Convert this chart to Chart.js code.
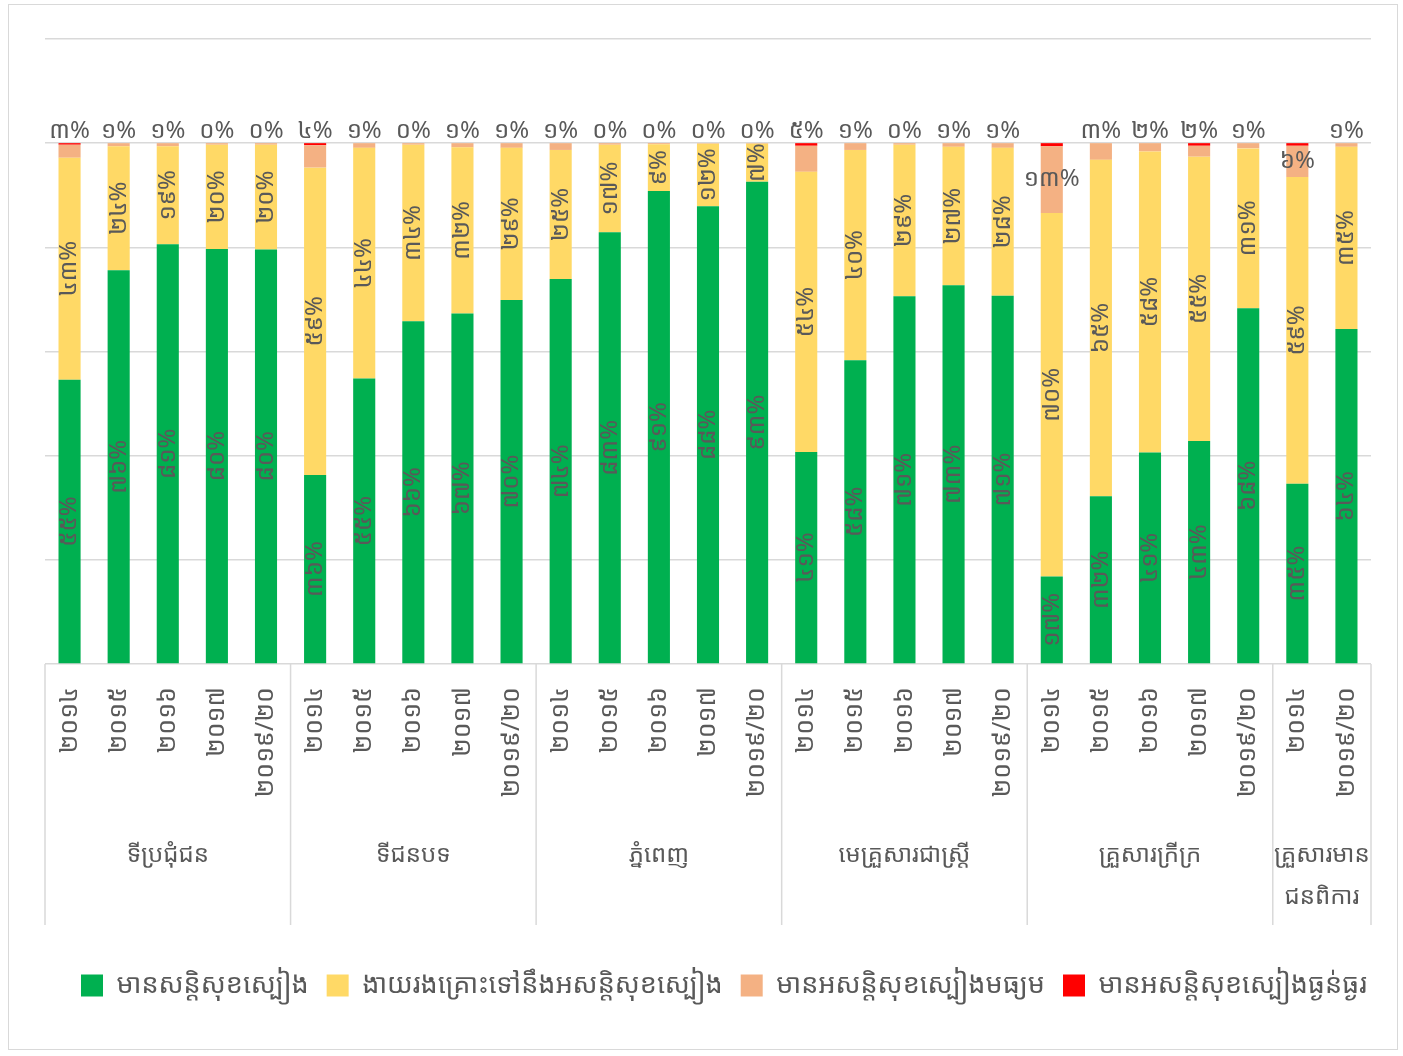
<!DOCTYPE html>
<html>
<head>
<meta charset="utf-8">
<script src="https://cdn.jsdelivr.net/npm/chart.js@4.4.1/dist/chart.umd.min.js"></script>
<style>
  html, body { margin: 0; padding: 0; background: #fff; }
  #wrap { position: absolute; left: 8px; top: 4px; width: 1390px; height: 1046px; border: 1px solid #d9d9d9; box-sizing: border-box; }
  canvas { display: block; }
</style>
</head>
<body>
<div id="wrap"><canvas id="c" width="1388" height="1044"></canvas></div>
<script>
const years = ['២០១៤','២០១៥','២០១៦','២០១៧','២០១៩/២០',
               '២០១៤','២០១៥','២០១៦','២០១៧','២០១៩/២០',
               '២០១៤','២០១៥','២០១៦','២០១៧','២០១៩/២០',
               '២០១៤','២០១៥','២០១៦','២០១៧','២០១៩/២០',
               '២០១៤','២០១៥','២០១៦','២០១៧','២០១៩/២០',
               '២០១៤','២០១៩/២០'];
const groupNames = ['ទីប្រជុំជន','ទីជនបទ','ភ្នំពេញ','មេគ្រួសារជាស្ត្រី','គ្រួសារក្រីក្រ',['គ្រួសារមាន','ជនពិការ']];
const groupSizes = [5,5,5,5,5,2];
const seriesNames = ['មានសន្តិសុខស្បៀង','ងាយរងគ្រោះទៅនឹងអសន្តិសុខស្បៀង','មានអសន្តិសុខស្បៀងមធ្យម','មានអសន្តិសុខស្បៀងធ្ងន់ធ្ងរ'];
const secure   = [54.6,75.6,80.6,79.7,79.6, 36.3,54.8,65.8,67.3,69.9, 73.9,82.9,90.8,87.9,92.6, 40.7,58.3,70.6,72.7,70.7, 16.8,32.2,40.6,42.8,68.3, 34.6,64.3];
const vulnerable = [42.6,23.8,18.8,20.0,20.1, 59.0,44.3,33.9,31.9,29.2, 24.8,16.8,9.0,12.0,7.3, 53.8,40.4,29.1,26.6,28.4, 69.8,64.6,57.8,54.6,30.7, 58.9,35.0];
const moderate = [2.5,0.6,0.6,0.3,0.3, 4.3,0.9,0.3,0.8,0.9, 1.3,0.3,0.2,0.1,0.1, 5.0,1.3,0.3,0.7,0.9, 12.8,3.2,1.6,2.1,1.0, 6.0,0.7];
const severe   = [0.3,0,0,0,0, 0.4,0,0,0,0, 0,0,0,0,0, 0.5,0,0,0,0, 0.6,0,0,0.5,0, 0.5,0];
const colors = ['#00B050','#FFD966','#F4B183','#FF0000'];

const FONT = "'Noto Sans Khmer','Khmer OS','Noto Sans',sans-serif";
const TXT = '#595959';
const khDigits = '០១២៣៤៥៦៧៨៩';
function kh(n){ return String(Math.round(n)).replace(/[0-9]/g, d => khDigits[+d]) + '%'; }

const labelPlugin = {
  id: 'labels',
  afterDatasetsDraw(chart) {
    const ctx = chart.ctx;
    ctx.save();
    ctx.fillStyle = TXT;
    ctx.font = '24px ' + FONT;
    ctx.textAlign = 'center';
    ctx.textBaseline = 'middle';
    [0,1].forEach(di => {
      chart.getDatasetMeta(di).data.forEach((el, i) => {
        const y = (el.y + el.base) / 2;
        ctx.save();
        ctx.translate(el.x, y);
        ctx.rotate(-Math.PI/2);
        ctx.fillText(kh(chart.data.datasets[di].data[i]), 0, 0);
        ctx.restore();
      });
    });
    const metaO = chart.getDatasetMeta(2);
    const metaR = chart.getDatasetMeta(3);
    metaO.data.forEach((el, i) => {
      const h = el.base - el.y;
      const top = Math.min(el.y, metaR.data[i].y);
      let y = (h > 28) ? (el.y + el.base) / 2 : top - 12;
      ctx.fillText(kh(chart.data.datasets[2].data[i]), el.x, y);
    });
    ctx.restore();
  }
};

const groupPlugin = {
  id: 'groups',
  afterLayout(chart) {
    const l = chart.legend;
    if (l) { l.left += 16; l.right += 16; }
  },
  afterDraw(chart) {
    const ctx = chart.ctx, xs = chart.scales.x, ca = chart.chartArea;
    const y0 = ca.bottom, y1 = ca.bottom + 261;
    ctx.save();
    ctx.strokeStyle = '#d9d9d9';
    ctx.lineWidth = 1.5;
    let idx = 0;
    const edges = [ca.left];
    groupSizes.forEach((n, g) => {
      const end = idx + n - 1;
      const left = edges[edges.length-1];
      const right = (end + 1 < years.length) ? (xs.getPixelForValue(end) + xs.getPixelForValue(end+1)) / 2 : ca.right;
      edges.push(right);
      ctx.fillStyle = TXT;
      ctx.font = '24px ' + FONT;
      ctx.textAlign = 'center';
      ctx.textBaseline = 'middle';
      const cx = (left + right) / 2;
      const name = groupNames[g];
      if (Array.isArray(name)) {
        ctx.fillText(name[0], cx, y0 + 191);
        ctx.fillText(name[1], cx, y0 + 233);
      } else {
        ctx.fillText(name, cx, y0 + 191);
      }
      idx += n;
    });
    edges.forEach(x => {
      ctx.beginPath();
      ctx.moveTo(x, y0);
      ctx.lineTo(x, y1);
      ctx.stroke();
    });
    ctx.restore();
  }
};

new Chart(document.getElementById('c'), {
  type: 'bar',
  data: {
    labels: years,
    datasets: [secure, vulnerable, moderate, severe].map((d, i) => ({
      label: seriesNames[i],
      data: d,
      backgroundColor: colors[i],
      borderWidth: 0,
      categoryPercentage: 0.9,
      barPercentage: 0.5
    }))
  },
  options: {
    responsive: false,
    animation: false,
    layout: { padding: { top: 34, left: 36, right: 26, bottom: 40 } },
    scales: {
      x: {
        stacked: true,
        grid: { display: false },
        border: { display: false },
        ticks: { color: TXT, font: { family: FONT, size: 25 }, maxRotation: 90, minRotation: 90, padding: 15, autoSkip: false },
        afterFit(scale) { scale.height = 290; }
      },
      y: {
        stacked: true,
        min: 0, max: 120,
        ticks: { display: false, stepSize: 20 },
        grid: { color: '#d9d9d9', lineWidth: 1.5, drawTicks: false },
        border: { display: false },
        afterFit(scale) { scale.width = 0; }
      }
    },
    plugins: {
      legend: {
        position: 'bottom',
        labels: { color: TXT, font: { family: FONT, size: 27 }, boxWidth: 22, boxHeight: 22, padding: 18 }
      },
      tooltip: { enabled: false }
    }
  },
  plugins: [labelPlugin, groupPlugin]
});
</script>
</body>
</html>
